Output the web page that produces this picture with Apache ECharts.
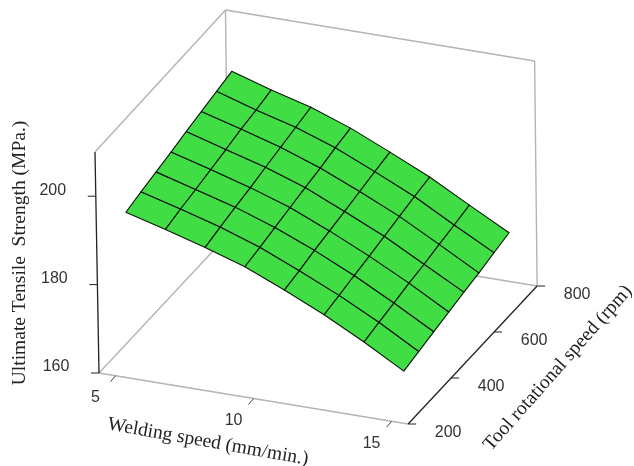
<!DOCTYPE html>
<html><head><meta charset="utf-8">
<style>html,body{margin:0;padding:0;background:#fff}#c{width:634px;height:466px}</style>
<script src="https://cdn.jsdelivr.net/npm/echarts@6/dist/echarts.min.js"></script>
</head><body><div id="c"></div>
<script>
const speedNodes = [5, 6.43, 7.86, 9.29, 10.71, 12.14, 13.57, 15];
const rpmNodes = [260, 330, 400, 470, 540, 610, 680, 750];
const strength = [
 [193.8,191.4,188.8,185.9,182.1,178.0,173.3,168.2],
 [194.7,192.3,189.7,186.6,182.8,178.7,174.1,169.0],
 [195.5,193.0,190.5,187.4,183.7,179.5,174.8,169.8],
 [196.3,193.8,191.2,188.2,184.4,180.2,175.6,170.6],
 [197.2,194.6,192.1,189.0,185.1,181.0,176.2,171.4],
 [198.0,195.5,192.9,189.7,185.9,181.8,177.0,172.1],
 [198.8,196.1,193.7,190.6,186.7,182.6,177.7,173.0],
 [199.6,196.9,194.5,191.3,187.4,183.3,178.5,173.8]
];
const speedTicks = [5, 10, 15];
const rpmTicks = [200, 400, 600, 800];
const strengthTicks = [160, 180, 200];
const speedRange = [4.4, 15.6];
const rpmRange = [200, 800];
const strengthRange = [160, 210];
const titles = ['Ultimate Tensile  Strength (MPa.)', 'Welding speed (mm/min.)', 'Tool rotational speed (rpm)'];

// oblique view of the data box on the page plane (slight perspective with depth)
function project(s, r, z) {
  const t = (r - rpmRange[0]) / (rpmRange[1] - rpmRange[0]);
  return [
    99 + (s - speedRange[0]) * 27.6 + (r - rpmRange[0]) * 0.215 - (z - strengthRange[0]) * (0.08 - 0.03 * t),
    373 + (s - speedRange[0]) * 4.554 - (r - rpmRange[0]) * 0.23 - (z - strengthRange[0]) * (4.42 + 0.08 * t)
  ];
}
const [s0, s1] = speedRange, [r0, r1] = rpmRange, [z0, z1] = strengthRange;
const grayEdges = [
  [[s0,r0,z0],[s1,r0,z0]], [[s0,r0,z0],[s0,r1,z0]], [[s0,r1,z0],[s1,r1,z0]],
  [[s0,r1,z0],[s0,r1,z1]], [[s1,r1,z0],[s1,r1,z1]], [[s0,r0,z1],[s0,r1,z1]], [[s0,r1,z1],[s1,r1,z1]]
];
const darkEdges = [ [[s0,r0,z0],[s0,r0,z1]], [[s1,r0,z0],[s1,r1,z0]] ];

const cells = [];
for (let j = 0; j < rpmNodes.length - 1; j++) for (let i = 0; i < speedNodes.length - 1; i++) {
  cells.push([[i,j],[i+1,j],[i+1,j+1],[i,j+1]].map(([a,b]) => project(speedNodes[a], rpmNodes[b], strength[b][a])));
}
const segs = [];
grayEdges.forEach(e => segs.push({p: e.map(v => project(...v)), c: '#b4b4b4', w: 1.4}));
darkEdges.forEach(e => segs.push({p: e.map(v => project(...v)), c: '#222', w: 1.3}));
speedTicks.forEach(t => { const a = project(t, r0, z0); segs.push({p: [a, [a[0]-5, a[1]+6]], c: '#444', w: 1}); });
rpmTicks.forEach(t => { const a = project(s1, t, z0); segs.push({p: [a, [a[0]+8, a[1]]], c: '#222', w: 1}); });
strengthTicks.forEach(t => { const a = project(s0, r0, t); segs.push({p: [a, [a[0]-8, a[1]]], c: '#222', w: 1}); });

const labelFont = '"Liberation Sans", Arial, sans-serif', titleFont = '"Liberation Serif", serif';
const labels = [];
strengthTicks.forEach(t => { const a = project(s0, r0, t); labels.push({t: String(t), p: [a[0]-43, a[1]-6], r: 0, f: labelFont, z: 16, c: '#333'}); });
speedTicks.forEach(t => { const a = project(t, r0, z0); labels.push({t: String(t), p: [a[0]-20, a[1]+22], r: 0, f: labelFont, z: 16, c: '#333'}); });
rpmTicks.forEach(t => { const a = project(s1, t, z0); labels.push({t: String(t), p: [a[0]+40, a[1]+9], r: 0, f: labelFont, z: 16, c: '#333'}); });
labels.push({t: titles[0], p: [20, 253], r: 90, f: titleFont, z: 19.5, c: '#222'});
labels.push({t: titles[1], p: [208, 442], r: -10, f: titleFont, z: 19.5, c: '#222'});
labels.push({t: titles[2], p: [558, 368], r: 48.5, f: titleFont, z: 19.5, c: '#222'});

const chart = echarts.init(document.getElementById('c'), null, {renderer: 'canvas'});
const hidden = {show: false};
chart.setOption({
  animation: false,
  backgroundColor: '#fff',
  grid: {left: 0, right: 0, top: 0, bottom: 0},
  xAxis: {type: 'value', min: 0, max: 634, axisLine: hidden, axisTick: hidden, axisLabel: hidden, splitLine: hidden},
  yAxis: {type: 'value', min: 0, max: 466, inverse: true, axisLine: hidden, axisTick: hidden, axisLabel: hidden, splitLine: hidden},
  series: [
    {type: 'custom', coordinateSystem: 'cartesian2d', silent: true, z: 1, clip: false,
     data: segs.map((_, i) => [i]),
     renderItem: (p, api) => { const s = segs[p.dataIndex]; const a = api.coord(s.p[0]), b = api.coord(s.p[1]);
       return {type: 'line', shape: {x1: a[0], y1: a[1], x2: b[0], y2: b[1]}, style: {stroke: s.c, lineWidth: s.w}}; }},
    {type: 'custom', coordinateSystem: 'cartesian2d', silent: true, z: 2, clip: false,
     data: cells.map((_, i) => [i]),
     renderItem: (p, api) => ({type: 'polygon', shape: {points: cells[p.dataIndex].map(q => api.coord(q))},
       style: {fill: '#41dd45', stroke: '#081408', lineWidth: 1.1, lineJoin: 'round'}})},
    {type: 'custom', coordinateSystem: 'cartesian2d', silent: true, z: 3, clip: false,
     data: labels.map((_, i) => [i]),
     renderItem: (p, api) => { const l = labels[p.dataIndex]; const a = api.coord(l.p);
       return {type: 'text', x: a[0], y: a[1], rotation: l.r * Math.PI / 180,
         style: {text: l.t, font: l.z + 'px ' + l.f, fill: l.c, align: 'center', verticalAlign: 'middle'}}; }}
  ]
});
</script></body></html>
